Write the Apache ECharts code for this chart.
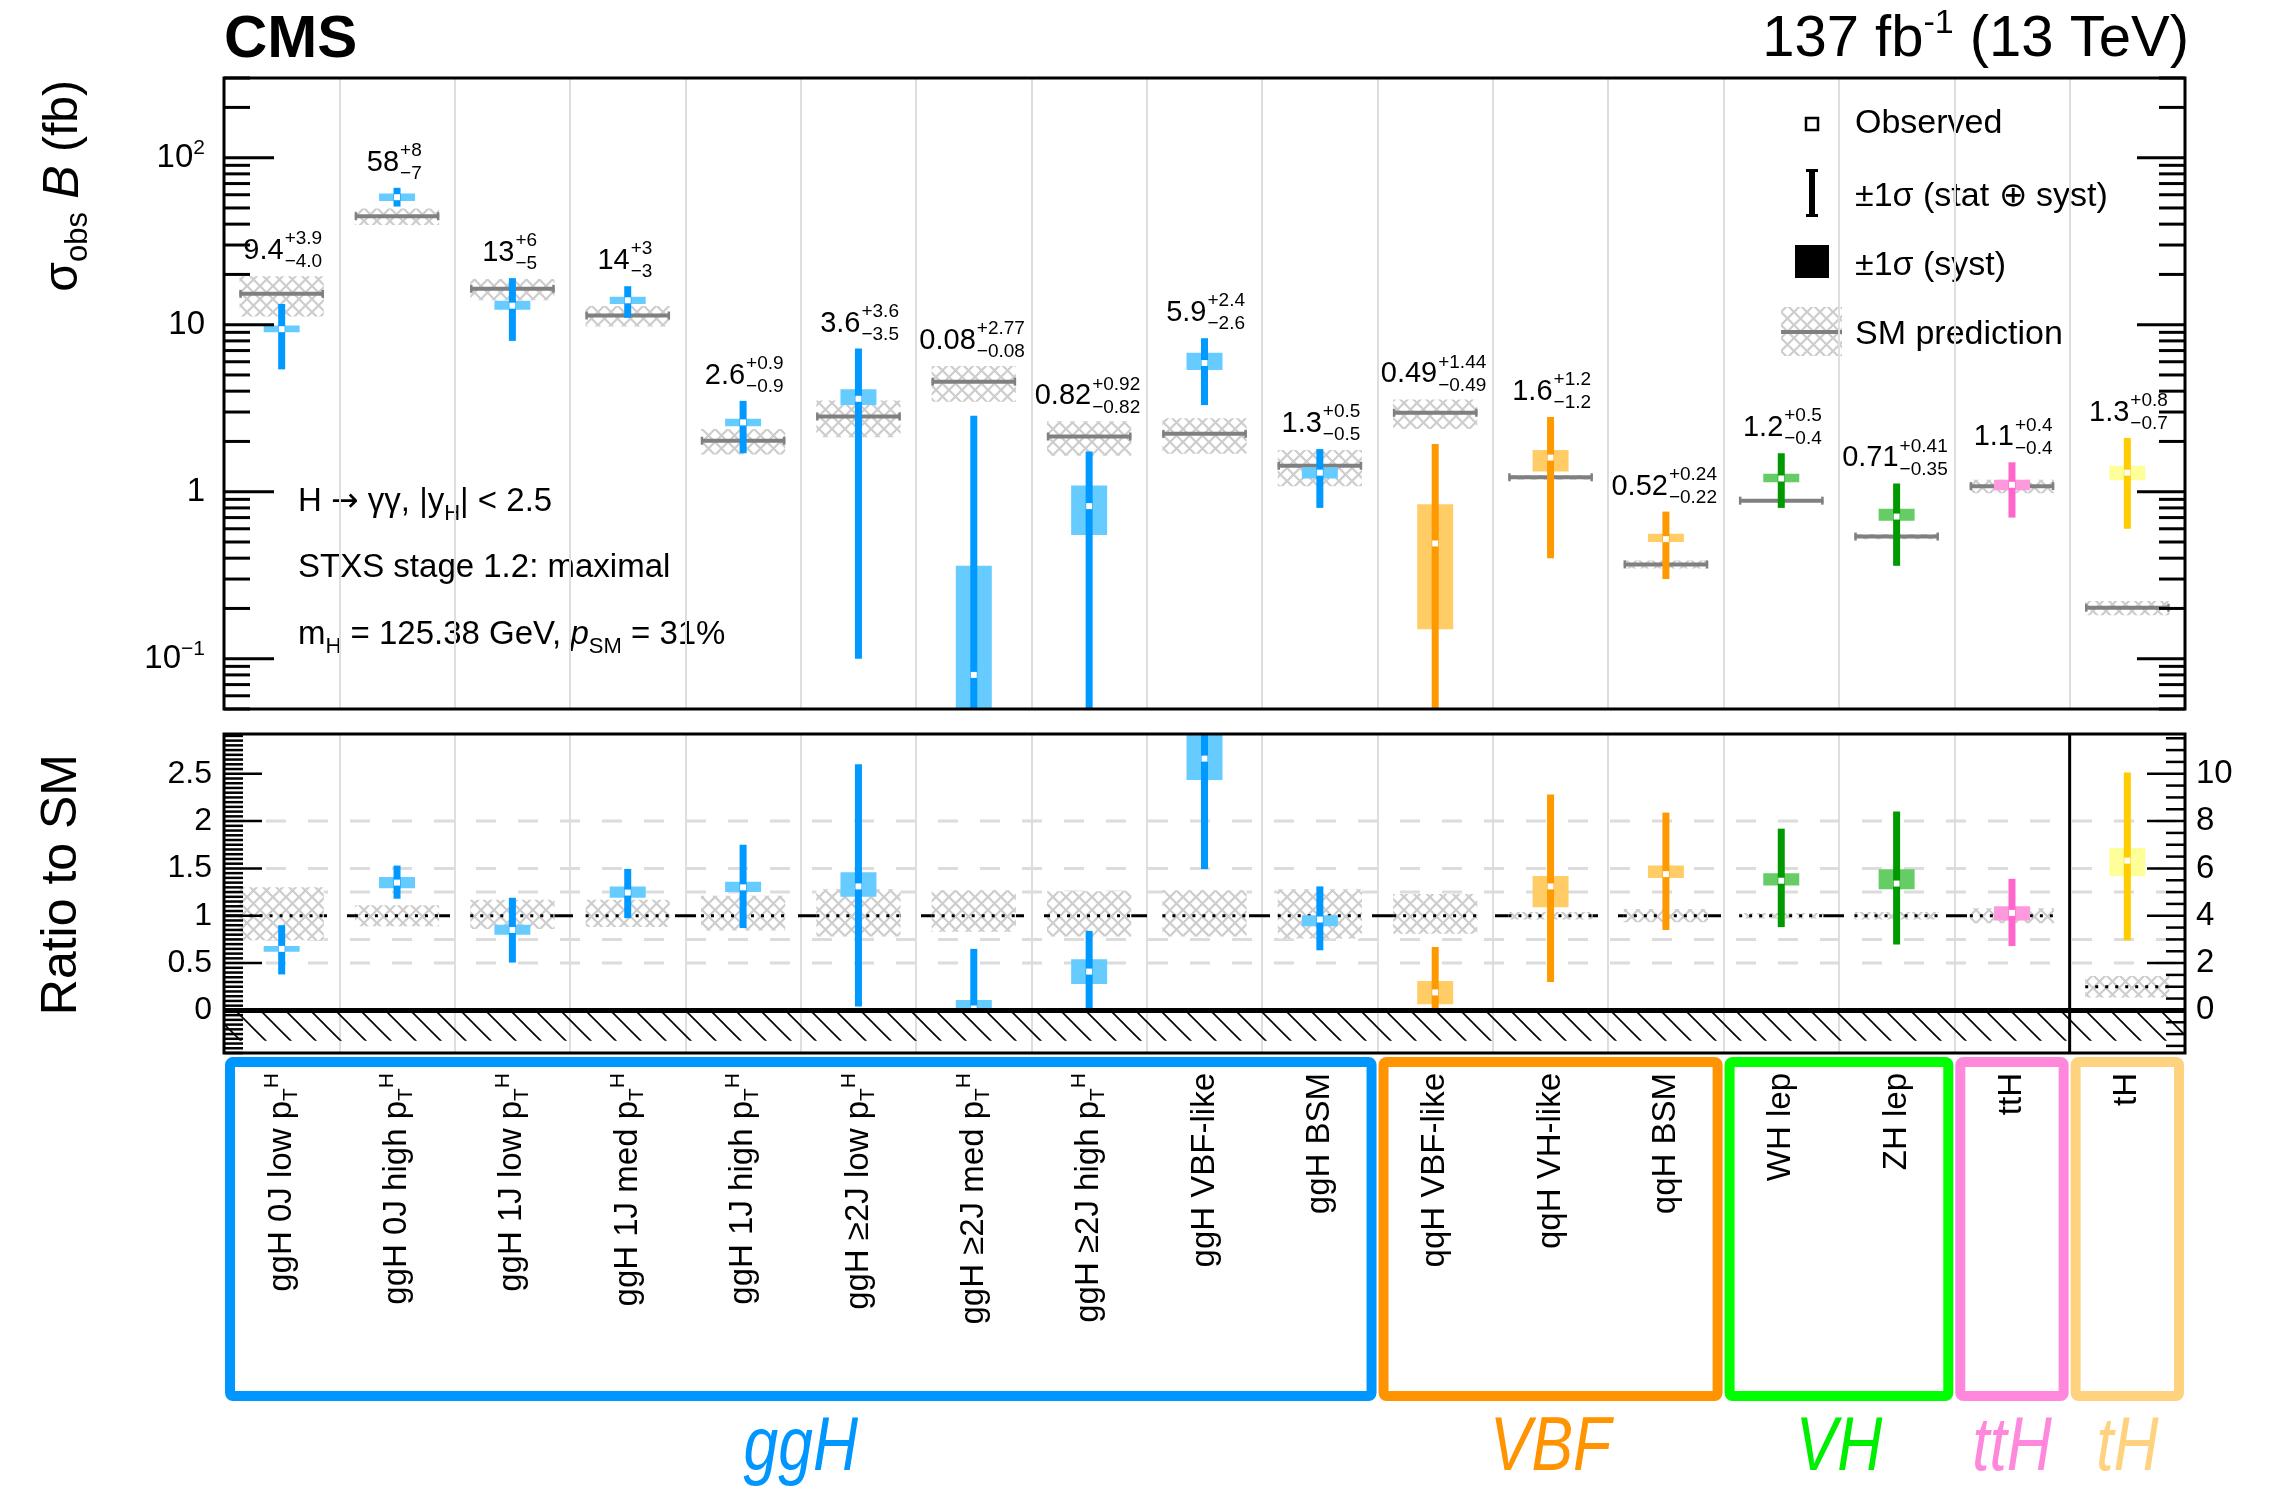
<!DOCTYPE html>
<html>
<head>
<meta charset="utf-8">
<script src="https://cdn.jsdelivr.net/npm/echarts@6/dist/echarts.min.js"></script>
<style>
  html, body { margin: 0; padding: 0; background: #fff; }
  #chart { width: 2295px; height: 1498px; }
</style>
</head>
<body>
<div id="chart"></div>
<script>
// ---------------- data ----------------
const categories = [
  'ggH 0J low pT^H', 'ggH 0J high pT^H', 'ggH 1J low pT^H', 'ggH 1J med pT^H',
  'ggH 1J high pT^H', 'ggH ≥2J low pT^H', 'ggH ≥2J med pT^H', 'ggH ≥2J high pT^H',
  'ggH VBF-like', 'ggH BSM', 'qqH VBF-like', 'qqH VH-like', 'qqH BSM',
  'WH lep', 'ZH lep', 'ttH', 'tH'
];
const categoryGroup = ['ggH', 'ggH', 'ggH', 'ggH', 'ggH', 'ggH', 'ggH', 'ggH', 'ggH', 'ggH',
  'VBF', 'VBF', 'VBF', 'VH', 'VH', 'ttH', 'tH'];
const groups = ['ggH', 'VBF', 'VH', 'ttH', 'tH'];

// observed cross section x branching fraction (fb) with total uncertainty
const obs      = [9.4, 58, 13, 14, 2.6, 3.6, 0.08, 0.82, 5.9, 1.3, 0.49, 1.6, 0.52, 1.2, 0.71, 1.1, 1.3];
const obsErrHi = [3.9, 8, 6, 3, 0.9, 3.6, 2.77, 0.92, 2.4, 0.5, 1.44, 1.2, 0.24, 0.5, 0.41, 0.4, 0.8];
const obsErrLo = [4.0, 7, 5, 3, 0.9, 3.5, 0.08, 0.82, 2.6, 0.5, 0.49, 1.2, 0.22, 0.4, 0.35, 0.4, 0.7];
const labelDigits = [1, 0, 0, 0, 1, 1, 2, 2, 1, 1, 2, 1, 2, 1, 2, 1, 1];
// systematic component
const obsSystHi = [0.5, 3, 0.9, 0.7, 0.13, 0.5, 0.28, 0.27, 0.9, 0.1, 0.35, 0.18, 0.04, 0.08, 0.08, 0.08, 0.13];
const obsSystLo = [0.4, 3, 0.7, 0.7, 0.13, 0.3, 0.08, 0.27, 0.55, 0.1, 0.34, 0.28, 0.02, 0.06, 0.04, 0.08, 0.13];
// SM prediction and its uncertainty (fb)
const smXsec  = [15.3, 44.6, 16.4, 11.35, 2.02, 2.82, 4.56, 2.14, 2.22, 1.43, 2.97, 1.22, 0.367, 0.884, 0.539, 1.08, 0.202];
const smErrHi = [4.2, 5, 2.4, 1.6, 0.35, 0.7, 1.1, 0.5, 0.53, 0.35, 0.6, 0.04, 0.02, 0.02, 0.02, 0.1, 0.02];
const smErrLo = [4.1, 5, 2.4, 1.6, 0.35, 0.7, 1.1, 0.5, 0.53, 0.35, 0.6, 0.04, 0.02, 0.02, 0.02, 0.1, 0.02];

// ratio to SM (last entry, tH, on the right-hand scale)
const ratio        = [0.65, 1.35, 0.85, 1.245, 1.30, 1.31, 0.02, 0.41, 2.66, 0.96, 0.19, 1.31, 1.44, 1.37, 1.34, 1.03, 6.33];
const ratioErrHi   = [0.25, 0.18, 0.34, 0.25, 0.45, 1.29, 0.63, 0.43, 1.08, 0.35, 0.48, 0.97, 0.65, 0.55, 0.76, 0.36, 3.72];
const ratioErrLo   = [0.27, 0.17, 0.345, 0.27, 0.43, 1.27, 0.02, 0.41, 1.165, 0.325, 0.19, 1.01, 0.59, 0.49, 0.645, 0.35, 3.37];
const ratioSystHi  = [0.03, 0.06, 0.055, 0.065, 0.06, 0.15, 0.09, 0.13, 0.4, 0.045, 0.12, 0.11, 0.09, 0.08, 0.15, 0.07, 0.53];
const ratioSystLo  = [0.03, 0.06, 0.05, 0.055, 0.05, 0.11, 0.02, 0.13, 0.225, 0.07, 0.124, 0.22, 0.04, 0.05, 0.06, 0.08, 0.66];
const ratioSmCentre = [1, 1, 1, 1, 1, 1, 1, 1, 1, 1, 1, 1, 1, 1, 1, 1, 1];
const ratioSmHi    = [0.30, 0.11, 0.17, 0.17, 0.21, 0.28, 0.27, 0.26, 0.27, 0.28, 0.23, 0.04, 0.07, 0.03, 0.04, 0.08, 0.45];
const ratioSmLo    = [0.26, 0.11, 0.14, 0.12, 0.155, 0.22, 0.17, 0.22, 0.22, 0.24, 0.19, 0.04, 0.07, 0.03, 0.04, 0.08, 0.45];

// tick labels
const ratioTickLabels = [0, 0.5, 1, 1.5, 2, 2.5];
const tHTickLabels = [0, 2, 4, 6, 8, 10];

// ---------------- styles ----------------
const FONT = '"Liberation Sans", Arial, Helvetica, sans-serif';
const nBins = categories.length;
const yMin = 0.05, yMax = 300;
const rMin = -0.45, rMax = 2.92;
const tMin = -1.8, tMax = 11.68;
const groupStyle = {
  ggH: { err: '#0099ff', syst: '#66ccff', box: '#0096ff', text: '#0096ff' },
  VBF: { err: '#ff9900', syst: '#ffcc66', box: '#ff9300', text: '#ff9300' },
  VH:  { err: '#009900', syst: '#66cc66', box: '#00ff00', text: '#00ee00' },
  ttH: { err: '#ff66cc', syst: '#ff99dd', box: '#ff88dd', text: '#ff88dd' },
  tH:  { err: '#ffcc00', syst: '#ffff99', box: '#ffd27f', text: '#ffd27f' }
};

function makePattern(size, draw) {
  const c = document.createElement('canvas');
  c.width = size; c.height = size;
  draw(c.getContext('2d'), size);
  return { image: c, repeat: 'repeat' };
}
// SM uncertainty band: grey cross-hatch on white
const hatchFill = makePattern(13, (g, s) => {
  g.fillStyle = '#fff'; g.fillRect(0, 0, s, s);
  g.strokeStyle = '#cdcdcd'; g.lineWidth = 2.2;
  g.beginPath();
  g.moveTo(-1, -1); g.lineTo(s + 1, s + 1);
  g.moveTo(s + 1, -1); g.lineTo(-1, s + 1);
  g.stroke();
});
// unphysical region below zero ratio
const diagFill = makePattern(25, (g, s) => {
  g.strokeStyle = '#000'; g.lineWidth = 1.6;
  g.beginPath();
  g.moveTo(-2, -2); g.lineTo(s + 2, s + 2);
  g.moveTo(-2, s - 2); g.lineTo(2, s + 2);
  g.moveTo(s - 2, -2); g.lineTo(s + 2, 2);
  g.stroke();
});

// ---------------- renderers ----------------
function hline(x1, x2, y, stroke, lw, dash) {
  return { type: 'line', shape: { x1, y1: y, x2, y2: y }, style: { stroke, lineWidth: lw, lineDash: dash || null } };
}
function vline(x, y1, y2, stroke, lw) {
  return { type: 'line', shape: { x1: x, y1, x2: x, y2 }, style: { stroke, lineWidth: lw } };
}

function markRenderer(cfg) {
  return function (params, api) {
    const i = api.value(0);
    const cs = params.coordSys;
    const unit = cs.width / nBins;
    const safe = v => (cfg.log ? Math.max(v, 1e-4) : v);
    const rawY = v => api.coord([0, safe(v)])[1];
    const yOf = v => Math.min(Math.max(rawY(v), cs.y), cs.y + cs.height);
    const xc = api.coord([i + 0.5, safe(1)])[0];
    const st = groupStyle[categoryGroup[i]];
    const kids = [];

    // SM band and central value
    const sm = cfg.sm[i];
    const bandHalf = 0.365 * unit;
    const yBt = yOf(sm + cfg.smHi[i]), yBb = yOf(sm - cfg.smLo[i]);
    kids.push({ type: 'rect', shape: { x: xc - bandHalf, y: yBt, width: 2 * bandHalf, height: yBb - yBt }, style: { fill: hatchFill } });
    const ySm = yOf(sm);
    if (cfg.log) {
      kids.push(hline(xc - bandHalf, xc + bandHalf, ySm, '#808080', 4));
      kids.push(vline(xc - bandHalf + 1, ySm - 4, ySm + 4, '#808080', 2.5));
      kids.push(vline(xc + bandHalf - 1, ySm - 4, ySm + 4, '#808080', 2.5));
    } else {
      kids.push(hline(xc - bandHalf, xc + bandHalf, ySm, '#000', 3, [3, 7]));
    }

    // systematic box
    const c = cfg.center[i];
    const sh = 0.156 * unit;
    const ySt = yOf(c + cfg.sysHi[i]), ySb = yOf(c - cfg.sysLo[i]);
    kids.push({ type: 'rect', shape: { x: xc - sh, y: ySt, width: 2 * sh, height: ySb - ySt }, style: { fill: st.syst } });

    // total uncertainty bar
    const yEt = yOf(c + cfg.errHi[i]), yEb = yOf(c - cfg.errLo[i]);
    kids.push({ type: 'rect', shape: { x: xc - 3.5, y: yEt, width: 7, height: yEb - yEt }, style: { fill: st.err } });

    // observed value
    const yC = rawY(c);
    if (yC >= cs.y && yC <= cs.y + cs.height) {
      kids.push({ type: 'rect', shape: { x: xc - 3, y: yC - 3, width: 6, height: 6 }, style: { fill: '#fff' } });
    }

    if (cfg.labels) {
      const d = labelDigits[i];
      const yl = Math.min(yEt, yBt) - 25;
      kids.push({ type: 'text', x: xc + 2, y: yl, style: { text: obs[i].toFixed(d), fontSize: 29, fontFamily: FONT, fill: '#000', align: 'right', verticalAlign: 'middle' } });
      kids.push({ type: 'text', x: xc + 3, y: yl - 12, style: { text: '+' + obsErrHi[i].toFixed(d), fontSize: 19, fontFamily: FONT, fill: '#000', align: 'left', verticalAlign: 'middle' } });
      kids.push({ type: 'text', x: xc + 3, y: yl + 11, style: { text: '\u2212' + obsErrLo[i].toFixed(d), fontSize: 19, fontFamily: FONT, fill: '#000', align: 'left', verticalAlign: 'middle' } });
    }
    return { type: 'group', children: kids };
  };
}

// log-axis tick positions: 1..9 x 10^k inside the range
const logTicks = [];
for (let e = -2; e <= 2; e++) {
  for (let m = 1; m <= 9; m++) {
    const v = m * Math.pow(10, e);
    if (v >= yMin && v <= yMax) logTicks.push([v, m === 1]);
  }
}

function topFrame(params, api) {
  const cs = params.coordSys;
  const kids = [];
  logTicks.forEach(([v, major]) => {
    const y = api.coord([0, v])[1];
    kids.push(hline(cs.x, cs.x + (major ? 50 : 26), y, '#000', 3));
    kids.push(hline(cs.x + cs.width - (major ? 48 : 26), cs.x + cs.width, y, '#000', 3));
  });
  kids.push({ type: 'rect', shape: { x: cs.x, y: cs.y, width: cs.width, height: cs.height }, style: { fill: 'none', stroke: '#000', lineWidth: 3 } });
  return { type: 'group', children: kids };
}

function ratioBackground(params, api) {
  const cs = params.coordSys;
  const kids = [];
  [0.5, 0.75, 1.25, 1.5, 2].forEach(v => {
    const y = api.coord([0, v])[1];
    kids.push(hline(cs.x, cs.x + cs.width, y, '#dcdcdc', 3, [20, 22]));
  });
  const y1 = api.coord([0, 1])[1];
  const xEnd = api.coord([nBins - 1, 1])[0];
  kids.push(hline(cs.x, xEnd, y1, '#000', 3, [21, 20]));
  return { type: 'group', children: kids };
}

function ratioFrame(params, api) {
  const cs = params.coordSys;
  const kids = [];
  const y0 = api.coord([0, 0])[1];
  const yH = api.coord([0, -0.32])[1];
  kids.push({ type: 'rect', shape: { x: cs.x, y: y0, width: cs.width, height: yH - y0 }, style: { fill: diagFill } });
  kids.push(hline(cs.x, cs.x + cs.width, y0, '#000', 5));
  for (let k = -9; k <= 58; k++) {
    const v = k * 0.05;
    const y = api.coord([0, v])[1];
    kids.push(hline(cs.x, cs.x + (k % 10 === 0 ? 38 : 19), y, '#000', 2.5));
  }
  const xd = api.coord([nBins - 1, 0])[0];
  kids.push(vline(xd, cs.y, cs.y + cs.height, '#000', 3));
  kids.push({ type: 'rect', shape: { x: cs.x, y: cs.y, width: cs.width, height: cs.height }, style: { fill: 'none', stroke: '#000', lineWidth: 3 } });
  return { type: 'group', children: kids };
}

function tHTicks(params, api) {
  const cs = params.coordSys;
  const kids = [];
  for (let k = -3; k <= 23; k++) {
    const v = k * 0.5;
    const y = api.coord([0, v])[1];
    kids.push(hline(cs.x + cs.width - (k % 4 === 0 ? 38 : 19), cs.x + cs.width, y, '#000', 2.5));
  }
  return { type: 'group', children: kids };
}

function groupBoxes(params, api) {
  const cs = params.coordSys;
  const kids = [];
  const lw = 10;
  groups.forEach(g => {
    const idx = [];
    categoryGroup.forEach((c, k) => { if (c === g) idx.push(k); });
    const x0 = api.coord([idx[0], 0])[0];
    const x1 = api.coord([idx[idx.length - 1] + 1, 0])[0];
    kids.push({ type: 'rect', shape: { x: x0 + lw / 2 + 1, y: cs.y + lw / 2, width: x1 - x0 - lw - 2, height: cs.height - lw, r: 3 },
      style: { fill: 'none', stroke: groupStyle[g].box, lineWidth: lw } });
    kids.push({ type: 'text', x: (x0 + x1) / 2, y: cs.y + cs.height + 48, scaleX: 0.82,
      style: { text: g, fontSize: 76, fontStyle: 'italic', fontFamily: FONT, fill: groupStyle[g].text, align: 'center', verticalAlign: 'middle' } });
  });
  return { type: 'group', children: kids };
}

// ---------------- chart ----------------
const chart = echarts.init(document.getElementById('chart'), null, { renderer: 'canvas' });
const binAxis = gi => ({
  type: 'value', gridIndex: gi, min: 0, max: nBins, interval: 1,
  axisLine: { show: false }, axisTick: { show: false }, axisLabel: { show: false },
  splitLine: { show: true, showMinLine: false, showMaxLine: false, lineStyle: { color: '#dedede', width: 2 } }
});
const supRich = {
  sup: { fontSize: 21, fontFamily: FONT, verticalAlign: 'top', lineHeight: 22, color: '#000' }
};

const idxAll = categories.map((_, i) => i);
const option = {
  animation: false,
  backgroundColor: '#fff',
  grid: [
    { left: 224, top: 78, width: 1961, height: 631 },
    { left: 224, top: 734, width: 1961, height: 319 },
    { left: 224, top: 1060, width: 1961, height: 4 },
    { left: 224, top: 1057, width: 1961, height: 344 }
  ],
  xAxis: [
    binAxis(0),
    binAxis(1),
    {
      type: 'category', gridIndex: 2, data: categories, position: 'bottom',
      axisLine: { show: false }, axisTick: { show: false }, splitLine: { show: false },
      axisLabel: {
        interval: 0, rotate: 90, margin: 9, fontSize: 33, fontFamily: FONT, color: '#000', lineHeight: 40,
        formatter: v => v.replace('pT^H', 'p{sub|T}{sup|H}'),
        rich: {
          sub: { fontSize: 21, fontFamily: FONT, color: '#000', verticalAlign: 'bottom', lineHeight: 22 },
          sup: { fontSize: 21, fontFamily: FONT, color: '#000', verticalAlign: 'top', lineHeight: 22 }
        }
      }
    },
    { type: 'value', gridIndex: 3, min: 0, max: nBins, show: false }
  ],
  yAxis: [
    {
      type: 'log', logBase: 10, gridIndex: 0, min: yMin, max: yMax,
      axisLine: { show: false }, axisTick: { show: false }, splitLine: { show: false },
      axisLabel: {
        showMinLabel: false, showMaxLabel: false, margin: 19,
        fontSize: 33, fontFamily: FONT, color: '#000', lineHeight: 40,
        formatter: v => {
          const e = Math.round(Math.log10(v));
          if (e === -1) return '10{sup|\u22121}';
          if (e === 2) return '10{sup|2}';
          return String(Math.round(v));
        },
        rich: supRich
      }
    },
    {
      type: 'value', gridIndex: 1, min: rMin, max: rMax, position: 'left',
      axisLine: { show: false }, axisTick: { show: false }, splitLine: { show: false },
      axisLabel: { customValues: ratioTickLabels, margin: 12, fontSize: 32, fontFamily: FONT, color: '#000' }
    },
    {
      type: 'value', gridIndex: 1, min: tMin, max: tMax, position: 'right',
      axisLine: { show: false }, axisTick: { show: false }, splitLine: { show: false },
      axisLabel: { customValues: tHTickLabels, margin: 11, fontSize: 33, fontFamily: FONT, color: '#000' }
    },
    { type: 'value', gridIndex: 2, show: false },
    { type: 'value', gridIndex: 3, min: 0, max: 1, show: false }
  ],
  series: [
    {
      type: 'custom', name: 'xsec', xAxisIndex: 0, yAxisIndex: 0, z: 2,
      data: idxAll.map(i => [i, obs[i]]),
      renderItem: markRenderer({ log: true, labels: true, center: obs, errHi: obsErrHi, errLo: obsErrLo,
        sysHi: obsSystHi, sysLo: obsSystLo, sm: smXsec, smHi: smErrHi, smLo: smErrLo })
    },
    { type: 'custom', name: 'xsecFrame', xAxisIndex: 0, yAxisIndex: 0, z: 5, data: [[0, 1]], renderItem: topFrame },
    { type: 'custom', name: 'ratioGuides', xAxisIndex: 1, yAxisIndex: 1, z: 1, data: [[0, 1]], renderItem: ratioBackground },
    {
      type: 'custom', name: 'ratio', xAxisIndex: 1, yAxisIndex: 1, z: 2,
      data: idxAll.filter(i => categoryGroup[i] !== 'tH').map(i => [i, ratio[i]]),
      renderItem: markRenderer({ log: false, labels: false, center: ratio, errHi: ratioErrHi, errLo: ratioErrLo,
        sysHi: ratioSystHi, sysLo: ratioSystLo, sm: ratioSmCentre, smHi: ratioSmHi, smLo: ratioSmLo })
    },
    {
      type: 'custom', name: 'ratioTH', xAxisIndex: 1, yAxisIndex: 2, z: 2,
      data: idxAll.filter(i => categoryGroup[i] === 'tH').map(i => [i, ratio[i]]),
      renderItem: markRenderer({ log: false, labels: false, center: ratio, errHi: ratioErrHi, errLo: ratioErrLo,
        sysHi: ratioSystHi, sysLo: ratioSystLo, sm: ratioSmCentre, smHi: ratioSmHi, smLo: ratioSmLo })
    },
    { type: 'custom', name: 'ratioFrame', xAxisIndex: 1, yAxisIndex: 1, z: 5, data: [[0, 0]], renderItem: ratioFrame },
    { type: 'custom', name: 'tHTicks', xAxisIndex: 1, yAxisIndex: 2, z: 5, data: [[0, 0]], renderItem: tHTicks },
    { type: 'custom', name: 'groups', xAxisIndex: 3, yAxisIndex: 4, z: 3, data: [[0, 0]], renderItem: groupBoxes }
  ],
  graphic: {
    elements: [
      { type: 'text', x: 224, y: 40, style: { text: 'CMS', fontSize: 60, fontWeight: 'bold', fontFamily: FONT, fill: '#000', verticalAlign: 'middle' } },
      { type: 'text', x: 2189, y: 40, style: {
          text: '137 fb{sup|-1} (13 TeV)', fontSize: 58, fontFamily: FONT, fill: '#000', align: 'right', verticalAlign: 'middle', lineHeight: 66,
          rich: { sup: { fontSize: 34, fontFamily: FONT, verticalAlign: 'top', lineHeight: 34, fill: '#000' } } } },
      // axis titles
      { type: 'text', x: 64, y: 80, rotation: Math.PI / 2, style: {
          text: 'σ{sub|obs} {b|B} (fb)', fontSize: 48, fontFamily: FONT, fill: '#000', align: 'right', verticalAlign: 'middle', lineHeight: 60,
          rich: { sub: { fontSize: 31, fontFamily: FONT, verticalAlign: 'bottom', lineHeight: 34, fill: '#000' },
                  b: { fontSize: 50, fontStyle: 'italic', fontFamily: FONT, fill: '#000', lineHeight: 60 } } } },
      { type: 'text', x: 62, y: 754, rotation: Math.PI / 2, style: {
          text: 'Ratio to SM', fontSize: 50, fontFamily: FONT, fill: '#000', align: 'right', verticalAlign: 'middle' } },
      // analysis description
      { type: 'text', x: 298, y: 502, style: {
          text: 'H {a|→} γγ, |y{s|H}| < 2.5', fontSize: 33, fontFamily: FONT, fill: '#000', verticalAlign: 'middle', lineHeight: 46,
          rich: { s: { fontSize: 22, fontFamily: FONT, verticalAlign: 'bottom', lineHeight: 22, fill: '#000' },
                  a: { fontSize: 33, fontFamily: '"DejaVu Sans", sans-serif', lineHeight: 46, fill: '#000' } } } },
      { type: 'text', x: 298, y: 568, style: {
          text: 'STXS stage 1.2: maximal', fontSize: 33, fontFamily: FONT, fill: '#000', verticalAlign: 'middle' } },
      { type: 'text', x: 298, y: 635, style: {
          text: 'm{s|H} = 125.38 GeV, {i|p}{s|SM} = 31%', fontSize: 33, fontFamily: FONT, fill: '#000', verticalAlign: 'middle', lineHeight: 46,
          rich: { s: { fontSize: 22, fontFamily: FONT, verticalAlign: 'bottom', lineHeight: 22, fill: '#000' },
                  i: { fontSize: 33, fontStyle: 'italic', fontFamily: FONT, lineHeight: 46, fill: '#000' } } } },
      // legend
      { type: 'rect', shape: { x: 1806, y: 118, width: 12, height: 12 }, style: { fill: '#fff', stroke: '#000', lineWidth: 2.5 } },
      { type: 'text', x: 1855, y: 124, style: { text: 'Observed', fontSize: 34, fontFamily: FONT, fill: '#000', verticalAlign: 'middle' } },
      { type: 'rect', shape: { x: 1809, y: 169, width: 6, height: 48 }, style: { fill: '#000' } },
      { type: 'rect', shape: { x: 1806, y: 169, width: 12, height: 3 }, style: { fill: '#000' } },
      { type: 'rect', shape: { x: 1806, y: 214, width: 12, height: 3 }, style: { fill: '#000' } },
      { type: 'text', x: 1855, y: 197, style: { text: '±1σ (stat ⊕ syst)', fontSize: 34, fontFamily: FONT, fill: '#000', verticalAlign: 'middle' } },
      { type: 'rect', shape: { x: 1795, y: 245, width: 34, height: 33 }, style: { fill: '#000' } },
      { type: 'text', x: 1855, y: 266, style: { text: '±1σ (syst)', fontSize: 34, fontFamily: FONT, fill: '#000', verticalAlign: 'middle' } },
      { type: 'rect', shape: { x: 1781, y: 307, width: 61, height: 49 }, style: { fill: hatchFill } },
      { type: 'line', shape: { x1: 1781, y1: 332, x2: 1842, y2: 332 }, style: { stroke: '#808080', lineWidth: 4 } },
      { type: 'text', x: 1855, y: 335, style: { text: 'SM prediction', fontSize: 34, fontFamily: FONT, fill: '#000', verticalAlign: 'middle' } }
    ]
  }
};
chart.setOption(option);
</script>
</body>
</html>
